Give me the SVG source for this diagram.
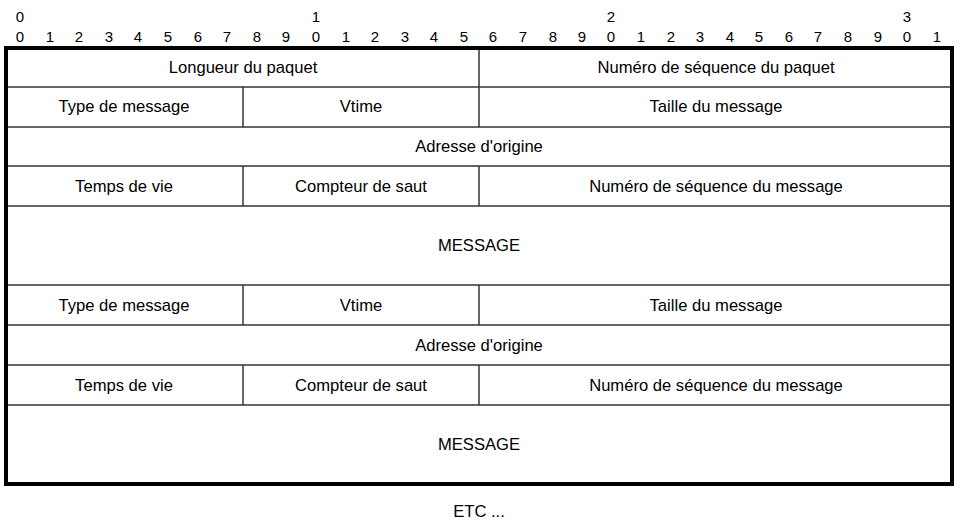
<svg xmlns="http://www.w3.org/2000/svg" width="960" height="521" viewBox="0 0 960 521">
<style>
text{font-family:"Liberation Sans",Arial,sans-serif;fill:#000}
.r{font-size:15px;text-anchor:middle}
.f{font-size:16.6px;text-anchor:middle}
.l{stroke:#333;stroke-width:1.5;fill:none}
</style>
<rect width="960" height="521" fill="#fff"/>
<g id="ruler">
<text class="r" x="20" y="22">0</text>
<text class="r" x="316" y="22">1</text>
<text class="r" x="611" y="22">2</text>
<text class="r" x="907" y="22">3</text>
<text class="r" x="20" y="42">0</text>
<text class="r" x="50" y="42">1</text>
<text class="r" x="79" y="42">2</text>
<text class="r" x="109" y="42">3</text>
<text class="r" x="138" y="42">4</text>
<text class="r" x="168" y="42">5</text>
<text class="r" x="198" y="42">6</text>
<text class="r" x="227" y="42">7</text>
<text class="r" x="257" y="42">8</text>
<text class="r" x="286" y="42">9</text>
<text class="r" x="316" y="42">0</text>
<text class="r" x="346" y="42">1</text>
<text class="r" x="375" y="42">2</text>
<text class="r" x="405" y="42">3</text>
<text class="r" x="434" y="42">4</text>
<text class="r" x="464" y="42">5</text>
<text class="r" x="493" y="42">6</text>
<text class="r" x="523" y="42">7</text>
<text class="r" x="553" y="42">8</text>
<text class="r" x="582" y="42">9</text>
<text class="r" x="611" y="42">0</text>
<text class="r" x="641" y="42">1</text>
<text class="r" x="671" y="42">2</text>
<text class="r" x="700" y="42">3</text>
<text class="r" x="730" y="42">4</text>
<text class="r" x="759" y="42">5</text>
<text class="r" x="789" y="42">6</text>
<text class="r" x="818" y="42">7</text>
<text class="r" x="848" y="42">8</text>
<text class="r" x="878" y="42">9</text>
<text class="r" x="907" y="42">0</text>
<text class="r" x="937" y="42">1</text>
</g>
<g id="lines">
<line class="l" x1="6" y1="87" x2="952" y2="87"/>
<line class="l" x1="6" y1="127" x2="952" y2="127"/>
<line class="l" x1="6" y1="166" x2="952" y2="166"/>
<line class="l" x1="6" y1="206" x2="952" y2="206"/>
<line class="l" x1="6" y1="285" x2="952" y2="285"/>
<line class="l" x1="6" y1="325" x2="952" y2="325"/>
<line class="l" x1="6" y1="365" x2="952" y2="365"/>
<line class="l" x1="6" y1="405" x2="952" y2="405"/>
<line class="l" x1="479" y1="48" x2="479" y2="127"/>
<line class="l" x1="243" y1="87" x2="243" y2="127"/>
<line class="l" x1="243" y1="166" x2="243" y2="206"/>
<line class="l" x1="479" y1="166" x2="479" y2="206"/>
<line class="l" x1="243" y1="285" x2="243" y2="325"/>
<line class="l" x1="479" y1="285" x2="479" y2="325"/>
<line class="l" x1="243" y1="365" x2="243" y2="405"/>
<line class="l" x1="479" y1="365" x2="479" y2="405"/>
<rect x="6" y="48" width="946" height="436" fill="none" stroke="#000" stroke-width="4"/>
</g>
<g id="header1">
<text class="f" x="243" y="73">Longueur du paquet</text>
<text class="f" x="716" y="73">Numéro de séquence du paquet</text>
</g>
<g id="msg1">
<text class="f" x="124" y="112">Type de message</text>
<text class="f" x="361" y="112">Vtime</text>
<text class="f" x="716" y="112">Taille du message</text>
<text class="f" x="479" y="152">Adresse d'origine</text>
<text class="f" x="124" y="192">Temps de vie</text>
<text class="f" x="361" y="192">Compteur de saut</text>
<text class="f" x="716" y="192">Numéro de séquence du message</text>
<text class="f" x="479" y="251">MESSAGE</text>
</g>
<g id="msg2">
<text class="f" x="124" y="311">Type de message</text>
<text class="f" x="361" y="311">Vtime</text>
<text class="f" x="716" y="311">Taille du message</text>
<text class="f" x="479" y="351">Adresse d'origine</text>
<text class="f" x="124" y="391">Temps de vie</text>
<text class="f" x="361" y="391">Compteur de saut</text>
<text class="f" x="716" y="391">Numéro de séquence du message</text>
<text class="f" x="479" y="450">MESSAGE</text>
</g>
<g id="etc">
<text class="f" x="479" y="517">ETC ...</text>
</g>
</svg>
